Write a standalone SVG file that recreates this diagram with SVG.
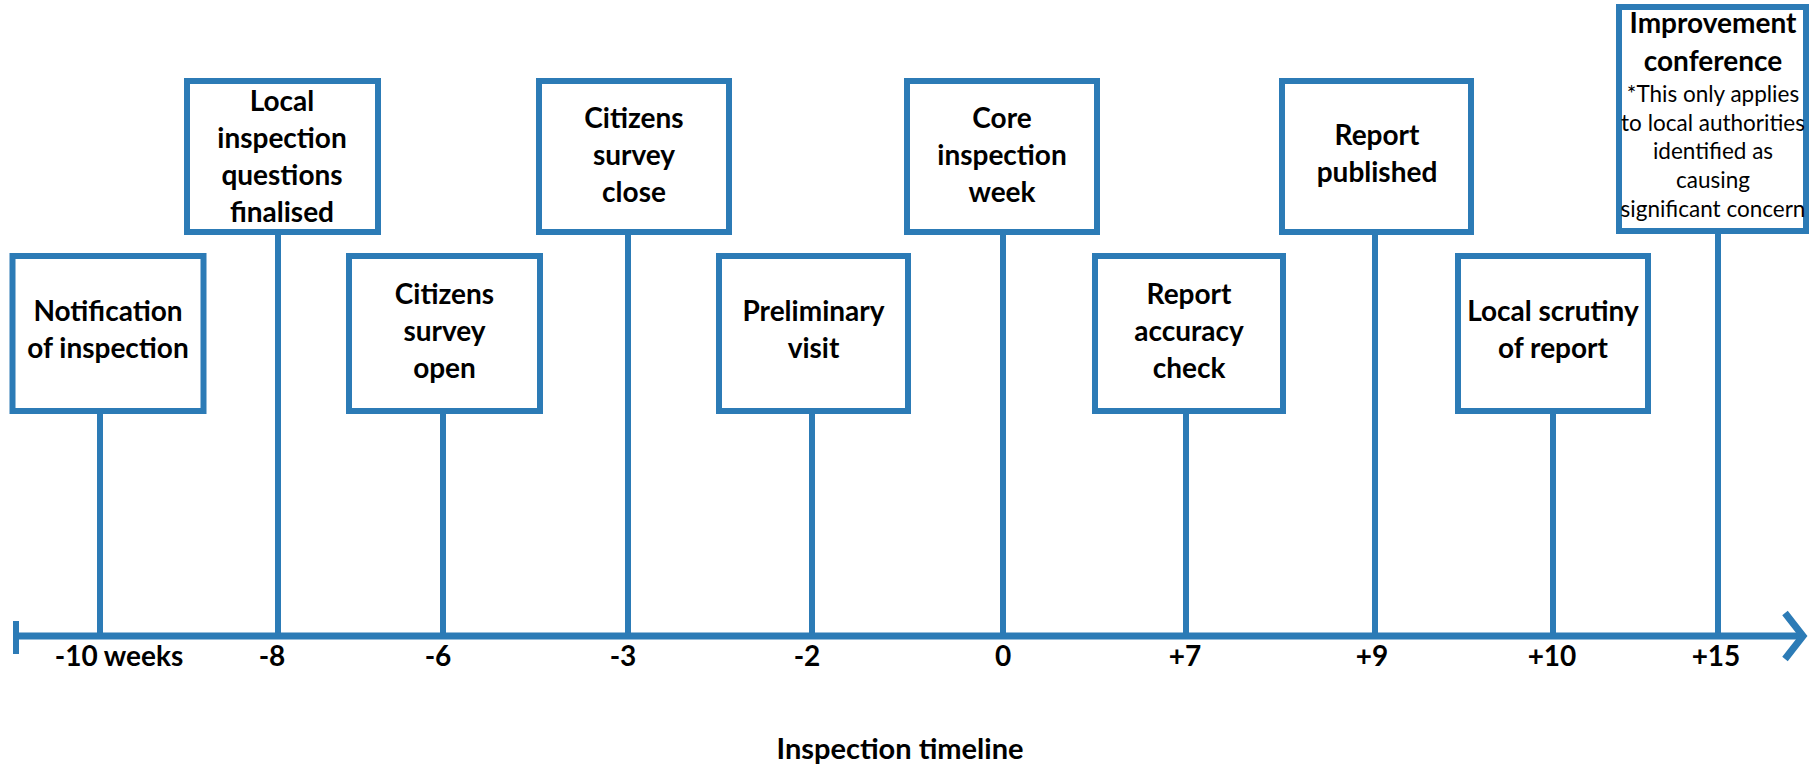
<svg xmlns="http://www.w3.org/2000/svg" width="1810" height="770" viewBox="0 0 1810 770">
<style>
.box{fill:#fff;stroke:#2C7BB6;stroke-width:6}
.ln{stroke:#2C7BB6;stroke-width:6;fill:none}
.ax{stroke:#2C7BB6;stroke-width:7;fill:none}
.t{font-family:Lato,"Open Sans",sans-serif;font-weight:700;font-size:28px;fill:#000;text-anchor:middle}
.s{font-family:Lato,"Open Sans",sans-serif;font-weight:400;font-size:22.5px;fill:#000;text-anchor:middle}
</style>
<rect width="1810" height="770" fill="#fff"/>
<g id="connectors">
<line class="ln" x1="100" y1="411" x2="100" y2="636"/>
<line class="ln" x1="278" y1="232" x2="278" y2="636"/>
<line class="ln" x1="443" y1="411" x2="443" y2="636"/>
<line class="ln" x1="628" y1="232" x2="628" y2="636"/>
<line class="ln" x1="812" y1="411" x2="812" y2="636"/>
<line class="ln" x1="1003" y1="232" x2="1003" y2="636"/>
<line class="ln" x1="1186" y1="411" x2="1186" y2="636"/>
<line class="ln" x1="1375" y1="232" x2="1375" y2="636"/>
<line class="ln" x1="1553" y1="411" x2="1553" y2="636"/>
<line class="ln" x1="1718" y1="231" x2="1718" y2="636"/>
</g>
<g id="axis">
<line class="ax" x1="16" y1="636" x2="1803" y2="636"/>
<line class="ln" x1="16" y1="621" x2="16" y2="654"/>
<polyline class="ax" points="1785,613 1803,636 1785,659"/>
<text class="t" x="119" y="666">-10 weeks</text>
<text class="t" x="272" y="666">-8</text>
<text class="t" x="438" y="666">-6</text>
<text class="t" x="623" y="666">-3</text>
<text class="t" x="807" y="666">-2</text>
<text class="t" x="1003" y="666">0</text>
<text class="t" x="1185" y="666">+7</text>
<text class="t" x="1372" y="666">+9</text>
<text class="t" x="1552" y="666">+10</text>
<text class="t" x="1716" y="666">+15</text>
<text class="t" x="900" y="759" style="font-size:29px">Inspection timeline</text>
</g>
<g id="n1">
<rect class="box" x="12.5" y="256" width="191" height="155"/>
<text class="t" x="108" y="321">Notification</text>
<text class="t" x="108" y="358">of inspection</text>
</g>
<g id="n2">
<rect class="box" x="187" y="81" width="191" height="151"/>
<text class="t" x="282" y="111">Local</text>
<text class="t" x="282" y="148">inspection</text>
<text class="t" x="282" y="185">questions</text>
<text class="t" x="282" y="222">finalised</text>
</g>
<g id="n3">
<rect class="box" x="349" y="256" width="191" height="155"/>
<text class="t" x="444.5" y="304">Citizens</text>
<text class="t" x="444.5" y="341">survey</text>
<text class="t" x="444.5" y="378">open</text>
</g>
<g id="n4">
<rect class="box" x="539" y="81" width="190" height="151"/>
<text class="t" x="634" y="128">Citizens</text>
<text class="t" x="634" y="165">survey</text>
<text class="t" x="634" y="202">close</text>
</g>
<g id="n5">
<rect class="box" x="719" y="256" width="189" height="155"/>
<text class="t" x="813.5" y="321">Preliminary</text>
<text class="t" x="813.5" y="358">visit</text>
</g>
<g id="n6">
<rect class="box" x="907" y="81" width="190" height="151"/>
<text class="t" x="1002" y="128">Core</text>
<text class="t" x="1002" y="165">inspection</text>
<text class="t" x="1002" y="202">week</text>
</g>
<g id="n7">
<rect class="box" x="1095" y="256" width="188" height="155"/>
<text class="t" x="1189" y="304">Report</text>
<text class="t" x="1189" y="341">accuracy</text>
<text class="t" x="1189" y="378">check</text>
</g>
<g id="n8">
<rect class="box" x="1282" y="81" width="189" height="151"/>
<text class="t" x="1377" y="145">Report</text>
<text class="t" x="1377" y="182">published</text>
</g>
<g id="n9">
<rect class="box" x="1458" y="256" width="190" height="155"/>
<text class="t" x="1553" y="321">Local scrutiny</text>
<text class="t" x="1553" y="358">of report</text>
</g>
<g id="n10">
<rect class="box" x="1619" y="7" width="187" height="224"/>
<text class="t" x="1713" y="33">Improvement</text>
<text class="t" x="1713" y="70.5">conference</text>
<text class="s" x="1713" y="101.5">*This only applies</text>
<text class="s" x="1713" y="130.5">to local authorities</text>
<text class="s" x="1713" y="159">identified as</text>
<text class="s" x="1713" y="188">causing</text>
<text class="s" x="1713" y="216.5">significant concern</text>
</g>
</svg>
